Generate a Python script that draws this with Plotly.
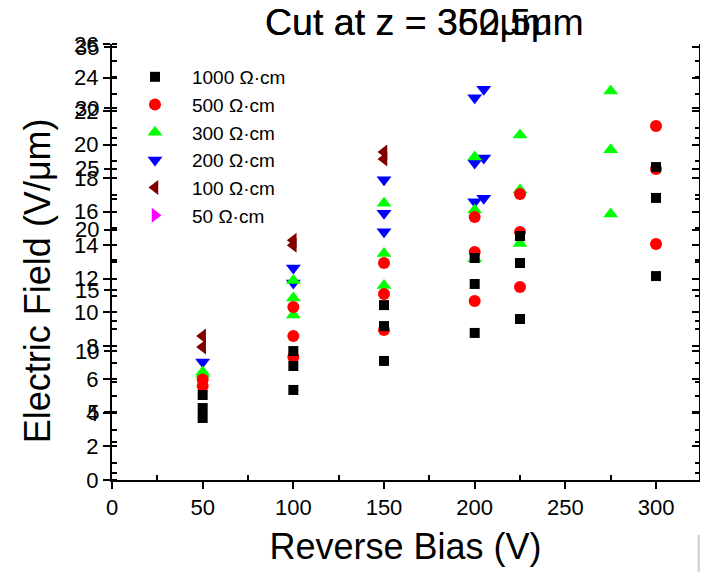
import plotly.graph_objects as go

# ---- data (main y-axis units, V/um) ----
x_1000 = [50, 50, 50, 100, 100, 100, 150, 150, 150, 200, 200, 200, 225, 225, 225, 300, 300, 300]
y_1000 = [5.07, 4.29, 3.70, 7.69, 6.80, 5.37, 10.43, 9.18, 7.10, 13.24, 11.69, 8.77, 14.55, 12.94, 9.60, 18.66, 16.82, 12.16]

x_500 = [50, 50, 100, 100, 100, 150, 150, 150, 200, 200, 200, 225, 225, 225, 300, 300, 300]
y_500 = [6.0, 5.6, 10.32, 8.59, 7.33, 12.94, 11.09, 8.94, 15.68, 13.6, 10.67, 17.05, 14.79, 11.51, 21.11, 18.55, 14.07]

x_300 = [50, 50, 100, 100, 100, 150, 150, 150, 200, 200, 200, 225, 225, 225, 275, 275, 275]
y_300 = [6.44, 6.3, 11.9, 10.85, 9.84, 16.5, 13.5, 11.6, 19.26, 16.1, 13.2, 20.57, 17.3, 14.1, 23.2, 19.7, 15.86]

x_200 = [50, 100, 100, 150, 150, 150, 200, 200, 200, 205, 205, 205]
y_200 = [7.04, 12.64, 11.75, 17.9, 15.9, 14.8, 22.8, 18.9, 16.6, 23.3, 19.2, 16.8]

x_100 = [50, 50, 100, 100, 150, 150]
y_100 = [8.59, 7.93, 14.3, 14.0, 19.56, 19.14]

x_50 = [None]
y_50 = [None]

x_ticks = [0, 50, 100, 150, 200, 250, 300]
y_ticks = [0, 2, 4, 6, 8, 10, 12, 14, 16, 18, 20, 22, 24, 26]
y2_ticks = [5, 10, 15, 20, 25, 30, 35]

titles = ["Cut at z = 350μm", "Cut at z = 362.5μm"]

FONT = "Liberation Sans, Arial, sans-serif"
X_RANGE = [0, 323.7]
Y_RANGE = [0, 26]
Y2_RANGE = [-0.59, 35.25]

fig = go.Figure()

series = [
    ("50 Ω·cm", x_50, y_50, "triangle-right", "#FF00FF", 13),
    ("100 Ω·cm", x_100, y_100, "triangle-left", "#800000", 13),
    ("200 Ω·cm", x_200, y_200, "triangle-down", "#0000FF", 13),
    ("300 Ω·cm", x_300, y_300, "triangle-up", "#00FF00", 13),
    ("500 Ω·cm", x_500, y_500, "circle", "#FF0000", 12),
    ("1000 Ω·cm", x_1000, y_1000, "square", "#000000", 10),
]
for name, xs, ys, sym, col, sz in series:
    fig.add_trace(go.Scatter(
        x=xs, y=ys, mode="markers", name=name, showlegend=True,
        marker=dict(symbol=sym, color=col, size=sz, line=dict(width=0)),
    ))

# empty helper traces to make the overlay axes render
for ax in ["y2", "y3", "y4"]:
    fig.add_trace(go.Scatter(x=[], y=[], yaxis=ax, showlegend=False, hoverinfo="skip"))

axis_common = dict(showgrid=False, zeroline=False, color="black")

fig.update_layout(
    width=700, height=564,
    margin=dict(l=104, r=9, t=36, b=92),
    plot_bgcolor="white", paper_bgcolor="white",
    font=dict(family=FONT, color="black"),
    showlegend=True,
    legend=dict(
        x=0.0102, y=0.968, xanchor="left", yanchor="top",
        traceorder="reversed", font=dict(size=19, family=FONT),
        bgcolor="rgba(0,0,0,0)", itemwidth=64,
    ),
    xaxis=dict(
        range=X_RANGE, tickvals=x_ticks, ticks="outside", ticklen=7, tickwidth=2,
        showline=True, linewidth=2, linecolor="black",
        tickfont=dict(size=22, family=FONT),
        minor=dict(tickvals=[25, 75, 125, 175, 225, 275, 325], ticks="inside", ticklen=5, tickwidth=2),
        title=dict(text="Reverse Bias (V)", font=dict(size=36, family=FONT), standoff=14),
        **axis_common,
    ),
    yaxis=dict(
        range=Y_RANGE, tickvals=y_ticks, ticks="outside", ticklen=7, tickwidth=2,
        showline=True, linewidth=2, linecolor="black",
        tickfont=dict(size=22, family=FONT),
        minor=dict(dtick=1, tick0=0, ticks="inside", ticklen=5, tickwidth=2),
        **axis_common,
    ),
    yaxis2=dict(
        overlaying="y", side="left", anchor="x",
        range=Y2_RANGE, tickvals=y2_ticks, ticks="outside", ticklen=7, tickwidth=2,
        showline=False, tickfont=dict(size=22, family=FONT),
        minor=dict(dtick=2.5, tick0=0, ticks="inside", ticklen=5, tickwidth=2),
        **axis_common,
    ),
    yaxis3=dict(
        overlaying="y", side="right", anchor="x",
        range=Y_RANGE, tickvals=y_ticks, ticks="inside", ticklen=7, tickwidth=2,
        showline=True, linewidth=2, linecolor="black", showticklabels=False,
        minor=dict(dtick=1, tick0=0, ticks="inside", ticklen=4, tickwidth=2),
        **axis_common,
    ),
    yaxis4=dict(
        overlaying="y", side="right", anchor="x",
        range=Y2_RANGE, tickvals=y2_ticks, ticks="inside", ticklen=7, tickwidth=2,
        showline=False, showticklabels=False,
        minor=dict(dtick=2.5, tick0=0, ticks="inside", ticklen=4, tickwidth=2),
        **axis_common,
    ),
)

# y-axis title (placed as annotation to match its lowered position)
fig.add_annotation(
    text="Electric Field (V/μm)", xref="paper", yref="paper",
    x=-0.128, y=0.458, xanchor="center", yanchor="middle", textangle=-90,
    showarrow=False, font=dict(size=36, family=FONT, color="black"),
)

for t in titles:
    fig.add_annotation(
        text=t, xref="paper", yref="paper", x=0.2572, y=1.05,
        xanchor="left", yanchor="middle", showarrow=False,
        font=dict(size=37.5, family=FONT, color="black"),
    )

# grey artifact in the lower-right corner of the original screenshot
fig.add_shape(type="rect", xref="paper", yref="paper",
              x0=0.9975, x1=1.016, y0=-0.126, y1=-0.212,
              fillcolor="#d4d4d4", line=dict(width=0))
fig.add_shape(type="rect", xref="paper", yref="paper",
              x0=1.0035, x1=1.0105, y0=-0.14, y1=-0.212,
              fillcolor="#7f7f7f", line=dict(width=0))

fig.write_html("out.html")
